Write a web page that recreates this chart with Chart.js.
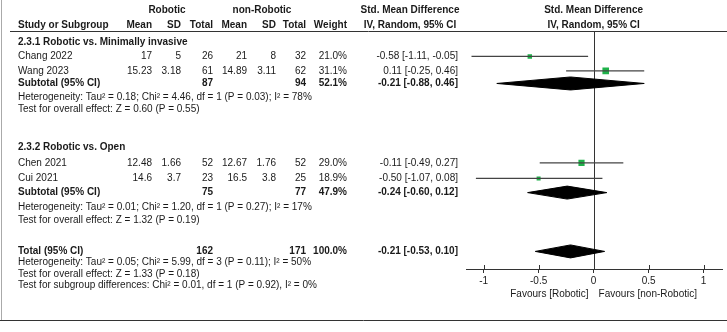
<!DOCTYPE html>
<html>
<head>
<meta charset="utf-8">
<script src="https://cdn.jsdelivr.net/npm/chart.js@4/dist/chart.umd.min.js"></script>
<style>
  html, body { margin: 0; padding: 0; background: #fff; }
  #wrap { width: 727px; height: 332px; position: relative; }
</style>
</head>
<body>
<div id="wrap"><canvas id="forest" width="727" height="332"></canvas></div>
<script>
// studies
const studyNames = ['Chang 2022', 'Wang 2023', 'Chen 2021', 'Cui 2021'];
const robMean = ['17', '15.23', '12.48', '14.6'];
const robSD = ['5', '3.18', '1.66', '3.7'];
const robTotal = [26, 61, 52, 23];
const nonMean = ['21', '14.89', '12.67', '16.5'];
const nonSD = ['8', '3.11', '1.76', '3.8'];
const nonTotal = [32, 62, 52, 25];
const weights = [21.0, 31.1, 29.0, 18.9];
const smd = [-0.58, 0.11, -0.11, -0.50];
const ciLow = [-1.11, -0.25, -0.49, -1.07];
const ciHigh = [-0.05, 0.46, 0.27, 0.08];
const studyGroup = [0, 0, 1, 1];

// subgroups
const groupNames = ['2.3.1 Robotic vs. Minimally invasive', '2.3.2 Robotic vs. Open'];
const subRobTotal = [87, 75];
const subNonTotal = [94, 77];
const subWeight = [52.1, 47.9];
const subSmd = [-0.21, -0.24];
const subLow = [-0.88, -0.60];
const subHigh = [0.46, 0.12];
const subHet = [
  'Heterogeneity: Tau\u00b2 = 0.18; Chi\u00b2 = 4.46, df = 1 (P = 0.03); I\u00b2 = 78%',
  'Heterogeneity: Tau\u00b2 = 0.01; Chi\u00b2 = 1.20, df = 1 (P = 0.27); I\u00b2 = 17%'
];
const subTest = [
  'Test for overall effect: Z = 0.60 (P = 0.55)',
  'Test for overall effect: Z = 1.32 (P = 0.19)'
];

// overall
const totalRob = 162;
const totalNon = 171;
const totalWeight = 100.0;
const totalSmd = -0.21;
const totalLow = -0.53;
const totalHigh = 0.10;
const totalHet = 'Heterogeneity: Tau\u00b2 = 0.05; Chi\u00b2 = 5.99, df = 3 (P = 0.11); I\u00b2 = 50%';
const totalTest = 'Test for overall effect: Z = 1.33 (P = 0.18)';
const diffTest = 'Test for subgroup differences: Chi\u00b2 = 0.01, df = 1 (P = 0.92), I\u00b2 = 0%';

// axis
const xTicks = [-1, -0.5, 0, 0.5, 1];
const favourLabels = ['Favours [Robotic]', 'Favours [non-Robotic]'];

// row layout (in row units on the y scale)
const headRows = [-2.3, -1.25];
const groupRows = [0, 7.8];
const studyRows = [1.08, 2.15, 8.95, 10.1];
const subRows = [3.08, 11.15];
const hetRows = [4.1, 12.2];
const testRows = [5.0, 13.2];
const totalRow = 15.5;
const totalHetRow = 16.3;
const totalTestRow = 17.2;
const diffRow = 18.0;

const FONT = '"Liberation Sans", Arial, sans-serif';
const TXT = '#1a1a1a';
const DIAMOND_H = 0.48;

// text columns
const col = { name: 18, rMean: 152, rSD: 181, rTot: 213, nMean: 247, nSD: 276, nTot: 306, wt: 347, ci: 458, ciHead: 410 };

const f2 = v => v.toFixed(2);
const ciText = (e, l, h) => f2(e) + ' [' + f2(l) + ', ' + f2(h) + ']';

const datasets = [];
// CI whiskers
studyNames.forEach((n, i) => {
  datasets.push({
    type: 'line',
    data: [{ x: ciLow[i], y: studyRows[i] }, { x: ciHigh[i], y: studyRows[i] }],
    borderColor: '#444', borderWidth: 1.3, pointRadius: 0, fill: false
  });
});
// study squares
datasets.push({
  type: 'scatter',
  data: smd.map((v, i) => ({ x: v, y: studyRows[i] })),
  pointStyle: 'rect',
  pointRadius: ctx => weights[ctx.dataIndex] * 0.15,
  backgroundColor: '#1fb24a',
  borderWidth: 0
});
// diamonds
function diamond(e, l, h, y) {
  return {
    type: 'line',
    data: [{ x: l, y: y }, { x: e, y: y - DIAMOND_H }, { x: h, y: y }, { x: e, y: y + DIAMOND_H }, { x: l, y: y }],
    borderColor: '#000', borderWidth: 1, backgroundColor: '#000',
    pointRadius: 0, fill: 'shape', tension: 0
  };
}
subSmd.forEach((v, g) => datasets.push(diamond(v, subLow[g], subHigh[g], subRows[g])));
datasets.push(diamond(totalSmd, totalLow, totalHigh, totalRow));

const forestText = {
  id: 'forestText',
  beforeDatasetsDraw(chart) {
    const { ctx, chartArea, scales: { x } } = chart;
    const x0 = x.getPixelForValue(0);
    ctx.save();
    ctx.strokeStyle = '#333';
    ctx.lineWidth = 1;
    ctx.beginPath();
    ctx.moveTo(Math.round(x0) + 0.5, chartArea.top);
    ctx.lineTo(Math.round(x0) + 0.5, chartArea.bottom);
    ctx.stroke();
    ctx.restore();
  },
  afterDraw(chart) {
    const { ctx, chartArea, scales: { x, y } } = chart;
    const yp = v => y.getPixelForValue(v);
    const x0 = x.getPixelForValue(0);
    ctx.save();
    ctx.fillStyle = TXT;
    ctx.textBaseline = 'middle';
    const put = (t, px, py, align, bold) => {
      ctx.font = (bold ? 'bold ' : '') + '10px ' + FONT;
      ctx.textAlign = align;
      ctx.fillText(t, px, py);
    };

    // frame and header rule
    ctx.strokeStyle = '#333';
    ctx.lineWidth = 1;
    ctx.beginPath();
    ctx.moveTo(10, Math.round(chartArea.top) + 0.5);
    ctx.lineTo(727, Math.round(chartArea.top) + 0.5);
    ctx.stroke();
    ctx.beginPath();
    ctx.moveTo(0, 320.5);
    ctx.lineTo(727, 320.5);
    ctx.stroke();
    ctx.strokeStyle = '#aaa';
    ctx.beginPath();
    ctx.moveTo(1.5, 0);
    ctx.lineTo(1.5, 320);
    ctx.stroke();

    // tick marks crossing the axis
    ctx.strokeStyle = '#333';
    xTicks.forEach(t => {
      const px = Math.round(x.getPixelForValue(t)) + 0.5;
      ctx.beginPath();
      ctx.moveTo(px, chartArea.bottom - 4);
      ctx.lineTo(px, chartArea.bottom);
      ctx.stroke();
    });

    // headers
    const h1 = yp(headRows[0]), h2 = yp(headRows[1]);
    put('Robotic', 167, h1, 'center', true);
    put('non-Robotic', 262, h1, 'center', true);
    put('Std. Mean Difference', col.ciHead, h1, 'center', true);
    put('Std. Mean Difference', x0, h1, 'center', true);
    put('Study or Subgroup', col.name, h2, 'left', true);
    put('Mean', col.rMean, h2, 'right', true);
    put('SD', col.rSD, h2, 'right', true);
    put('Total', col.rTot, h2, 'right', true);
    put('Mean', col.nMean, h2, 'right', true);
    put('SD', col.nSD, h2, 'right', true);
    put('Total', col.nTot, h2, 'right', true);
    put('Weight', col.wt, h2, 'right', true);
    put('IV, Random, 95% CI', col.ciHead, h2, 'center', true);
    put('IV, Random, 95% CI', x0, h2, 'center', true);

    // groups
    groupNames.forEach((g, gi) => {
      put(g, col.name, yp(groupRows[gi]), 'left', true);
      studyNames.forEach((n, i) => {
        if (studyGroup[i] !== gi) return;
        const r = yp(studyRows[i]);
        put(n, col.name, r, 'left', false);
        put(robMean[i], col.rMean, r, 'right', false);
        put(robSD[i], col.rSD, r, 'right', false);
        put(String(robTotal[i]), col.rTot, r, 'right', false);
        put(nonMean[i], col.nMean, r, 'right', false);
        put(nonSD[i], col.nSD, r, 'right', false);
        put(String(nonTotal[i]), col.nTot, r, 'right', false);
        put(weights[i].toFixed(1) + '%', col.wt, r, 'right', false);
        put(ciText(smd[i], ciLow[i], ciHigh[i]), col.ci, r, 'right', false);
      });
      const s = yp(subRows[gi]);
      put('Subtotal (95% CI)', col.name, s, 'left', true);
      put(String(subRobTotal[gi]), col.rTot, s, 'right', true);
      put(String(subNonTotal[gi]), col.nTot, s, 'right', true);
      put(subWeight[gi].toFixed(1) + '%', col.wt, s, 'right', true);
      put(ciText(subSmd[gi], subLow[gi], subHigh[gi]), col.ci, s, 'right', true);
      put(subHet[gi], col.name, yp(hetRows[gi]), 'left', false);
      put(subTest[gi], col.name, yp(testRows[gi]), 'left', false);
    });

    // total
    const t = yp(totalRow);
    put('Total (95% CI)', col.name, t, 'left', true);
    put(String(totalRob), col.rTot, t, 'right', true);
    put(String(totalNon), col.nTot, t, 'right', true);
    put(totalWeight.toFixed(1) + '%', col.wt, t, 'right', true);
    put(ciText(totalSmd, totalLow, totalHigh), col.ci, t, 'right', true);
    put(totalHet, col.name, yp(totalHetRow), 'left', false);
    put(totalTest, col.name, yp(totalTestRow), 'left', false);
    put(diffTest, col.name, yp(diffRow), 'left', false);

    // favours labels
    const fy = chartArea.bottom + 25;
    put(favourLabels[0], x0 - 5, fy, 'right', false);
    put(favourLabels[1], x0 + 5, fy, 'left', false);
    ctx.restore();
  }
};

new Chart(document.getElementById('forest'), {
  type: 'scatter',
  data: { datasets },
  options: {
    responsive: false,
    animation: false,
    devicePixelRatio: 1,
    layout: { padding: { left: 466, right: 0, top: 31, bottom: 0 } },
    plugins: { legend: { display: false }, tooltip: { enabled: false } },
    scales: {
      x: {
        type: 'linear',
        min: -1.16,
        max: 1.17,
        afterBuildTicks: s => { s.ticks = xTicks.map(v => ({ value: v })); },
        afterFit: s => { s.height = 332 - 269; },
        border: { display: true, color: '#333', width: 1 },
        grid: { display: true, drawOnChartArea: false, drawTicks: true, tickLength: 4, color: '#333' },
        ticks: {
          color: TXT, padding: 2, autoSkip: false, maxRotation: 0,
          font: { family: FONT, size: 10 },
          callback: v => String(v)
        }
      },
      y: { type: 'linear', display: false, reverse: true, min: -0.8, max: 16.8 }
    }
  },
  plugins: [forestText]
});
</script>
</body>
</html>
